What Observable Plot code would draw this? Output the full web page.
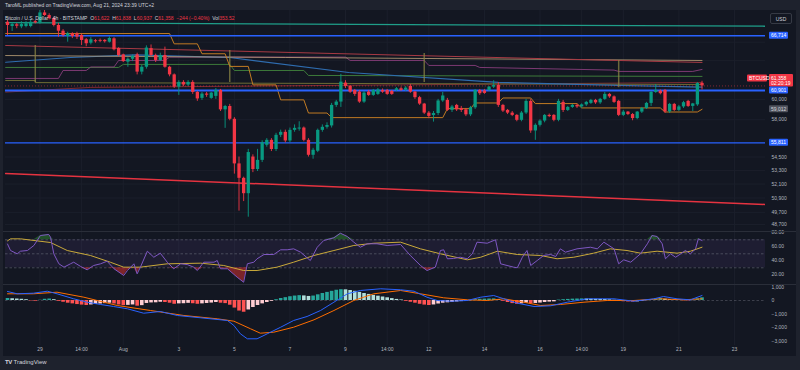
<!DOCTYPE html>
<html><head><meta charset="utf-8">
<script src="https://cdn.jsdelivr.net/npm/d3@7"></script>
<script src="https://cdn.jsdelivr.net/npm/@observablehq/plot@0.6"></script>
<style>
html,body{margin:0;padding:0;background:#1e222d;width:800px;height:370px;overflow:hidden;font-family:"Liberation Sans",Arial,sans-serif;}
#frame{position:absolute;left:3px;top:10px;width:793px;height:346px;background:#131722;}
.pane{position:absolute;left:0;}
.sep{position:absolute;left:3px;width:793px;height:1px;background:#2a2e39;}
#hdr{position:absolute;left:5px;top:2px;font-size:5px;color:#d1d4dc;white-space:nowrap;}
#legend{position:absolute;left:5px;top:14.6px;font-size:5px;color:#d1d4dc;white-space:nowrap;}
#legend .v{color:#f23645;}
#usd{position:absolute;left:770px;top:13px;width:22px;height:11px;border:0.6px solid #363a45;border-radius:2px;color:#d1d4dc;font-size:5px;line-height:11px;text-align:center;background:#131722;box-sizing:border-box;}
#footer{position:absolute;left:5px;top:358.5px;font-size:6px;color:#d1d4dc;white-space:nowrap;}
#footer b{font-weight:900;letter-spacing:-0.3px;margin-right:1.5px;}
</style></head>
<body>
<div id="frame"></div>
<div id="hdr"></div>
<div id="main" class="pane" style="top:10px"></div>
<div id="rsi" class="pane" style="top:231px"></div>
<div id="macd" class="pane" style="top:284px"></div>
<div class="sep" style="top:230.5px"></div>
<div class="sep" style="top:283.5px"></div>
<div id="legend"></div>
<div id="usd">USD</div>
<div id="footer"><b>TV</b>TradingView</div>
<script>
// ---------- DATA ----------
const headerText = "TaroML published on TradingView.com, Aug 21, 2024 23:39 UTC+2";
const symbolText = "Bitcoin / U.S. Dollar · 4h · BITSTAMP";
const lastVolume = 353.52;
const countdown = "02:20:19";
const START = "2024-07-27T22:00:00Z";   // first 4h bar (chart time UTC+2)
const BAR_HOURS = 4;
const X_DOMAIN = ["2024-07-27T20:16:00Z", "2024-08-24T04:50:00Z"];

const open = [68230,67750,67940,67710,67750,67750,68300,68150,69300,69000,
68650,67860,67220,66630,66930,66930,66740,66270,65890,66160,
66200,66200,66000,66370,65310,64620,63840,64150,64620,62790,
63300,65300,64550,64020,64550,63300,62500,61240,61720,61450,
61720,60700,60100,60530,60100,60300,60900,58960,59290,58040,
53880,52600,51270,54500,53380,54200,55580,56040,55190,56510,
56790,55980,56980,57100,57200,56040,54660,55030,56980,57270,
57400,59400,59730,61650,61310,60900,60730,59730,60730,60400,
60500,60900,60900,60800,60900,61070,60920,61310,60730,60170,
59530,58640,58400,58600,59840,59900,58910,59400,59100,58960,
58470,59160,60900,60850,60900,61240,61410,59400,58910,58640,
58420,57940,58650,59800,56920,57460,57870,58420,58420,57940,
59700,58900,59200,59400,59250,59450,59600,59900,59650,60000,
60500,60250,59800,58420,58740,58500,58110,58740,59100,59600,
60700,60830,60900,58760,59500,58910,59250,59800,59300,59450,
61622];
const high = [68420,68190,68100,68300,68300,68500,68450,69900,69700,69200,
68800,68100,67400,67100,67050,67100,66900,66400,66500,66300,
66350,66300,66600,66500,65400,64700,64300,64600,64800,63500,
65600,65700,64700,64800,65460,63400,62600,61900,61900,61900,
61900,60800,60700,60700,60700,61100,61000,59400,59500,58200,
54500,52700,55200,54700,55200,56000,56200,56200,56700,57000,
57000,57200,57500,57800,57300,56200,55300,57100,57500,57700,
59600,59900,62560,61900,61400,61000,60900,60800,60900,61000,
61100,61050,61000,60900,61200,61250,61300,61500,60800,60300,
59600,58800,58800,60000,60700,60100,59400,59500,59300,59100,
59300,61000,61000,61000,61300,61900,61700,59500,59000,58800,
58500,58800,60000,60000,57600,58000,58500,58550,58500,60000,
59900,59300,59500,59500,59550,59800,60000,60000,60100,60700,
60600,60350,59900,58900,58800,58600,58800,59200,59700,60800,
61500,60950,61000,59600,59600,59400,59800,59900,59600,61700,
61838];
const low = [66740,67190,67500,67500,67600,67600,68050,68000,68900,68500,
67700,66560,66560,66000,66400,66300,65640,65500,65700,65900,
65950,65900,65900,65050,64400,63800,63300,63900,62500,62500,
63100,64400,63800,63900,63200,62300,61100,60400,61300,61300,
60500,59800,59900,60200,60000,60000,58800,57170,57900,52970,
49800,50600,49300,53100,53200,54000,55400,55000,55000,56300,
55800,55800,56800,56900,55900,54500,54300,54900,56800,57100,
57200,59200,59200,61100,60600,60300,59600,59600,60300,60300,
60400,60600,60400,60400,60800,60800,60800,60600,60000,59400,
58500,58100,57770,58400,59700,58800,58700,58800,58700,58300,
58300,59000,60400,60500,60800,61100,59200,58700,58500,58300,
57800,57800,58500,56700,56040,57300,57700,58200,57800,57800,
58700,58800,59100,59100,59100,59300,59500,59500,59500,59900,
60100,59600,58300,58300,58400,57900,58000,58600,59000,59300,
60600,60450,58600,58600,58800,58800,59100,59200,58800,59300,
60937];
const close = [67860,67970,67780,67970,68050,68230,68150,69300,69000,68650,
67860,67220,66740,66930,66630,66560,66190,65830,66270,66050,
66100,66050,66410,65170,64550,63900,64150,64450,62790,63300,
65360,64550,64020,64550,63300,62500,61240,61720,61450,61720,
60700,60040,60530,60420,60630,60900,58960,59290,58040,53880,
52600,51270,54910,53380,54200,55820,56040,55190,56510,56790,
55980,56980,57170,57200,56040,54660,55120,56980,57270,57440,
59400,59730,61750,61310,60730,60500,59730,60630,60400,60900,
60950,60730,60500,60500,61070,60900,61140,60730,60170,59530,
58640,58320,58600,59840,60340,58910,59240,58960,58900,58470,
59160,60900,60570,60600,61240,61400,59400,58840,58640,58420,
57940,58650,59800,56920,57460,57870,58420,58300,57940,59800,
58900,59200,59400,59250,59450,59700,59900,59650,60000,60500,
60250,59700,58420,58740,58500,58110,58740,59100,59600,60700,
60900,60570,58760,59500,58910,59250,59670,59300,59550,61602,
61358];

// price levels / drawn lines  ([bar index, price])
const hLevels = [66714, 60901, 55811];
const stopLevel = 59012;
const tealLine = [[-0.4,68180],[163.7,67780]];
const trendLine = [[-0.4,53030],[163.7,50356]];
const redMA = [[-0.4,65640],[131.7,64020],[150,63810]];
const tanLine = [[-0.4,64550],[60,64340],[150,64020]];
const blueMA = [[-0.4,63830],[13.6,64340],[27.5,64630],[48,64340],[73.7,62750],[106,61720],[131.7,61410],[150,61240]];
const greenLine = [[-0.4,63280],[24,63280],[25,63600],[48,63600],[49,62960],[64,62960],[65,62440],[150,62340]];
const magentaLine = [[-0.4,62130],[11,62130],[12,62960],[17,62960],[18,63330],[23,63330],[24,64020],[34,64020],[35,64380],[73,64380],[74,64020],[90,64020],[91,63490],[101,63490],[102,63280],[131,63000],[132,62860],[148,62860],[150,63070]];
const oliveLine = [[-0.4,61920],[6,61920],[6,61700],[150,61510]];
const darkRedLine = [[-0.4,60730],[18,61210],[150,61720]];
const weekBoxes = [[6,65640,61700],[48,65090,61700],[90,64770,61700],[132,64020,61180]];
const stopLine = [[-0.4,66960],[35,66960],[36,65820],[41,65820],[42,64740],[47,64740],[48,63390],[52,63390],[53,61470],[58,61470],[59,59950],[64,59950],[65,58650],[69,58650],[70,58200],[94,58200],[95,59080],[100,59080],[101,59640],[106,59640],[107,60140],[113,60140],[114,59580],[123,59580],[124,59150],[141,59150],[142,58750],[149,58750],[150,59012]];

// RSI (14) and its MA
const rsi = [[0,64],[0.65,54.7],[2.1,50],[2.8,53.7],[4.3,54.7],[5.7,61.9],[7.1,76.1],[8.9,77.6],[9.3,73.7],[10,50],[11.1,35.7],[12.2,30.9],[13.6,35.7],[14.3,38],[15.8,31.9],[17.2,27.1],[18.6,33.3],[20.1,35.7],[21.5,39.4],[23,28.6],[25.1,19],[25.9,26.1],[27.3,35.7],[28,21.4],[28.7,30.9],[30.2,53.7],[31.6,45.1],[33,50.9],[34.5,38],[35.9,28.6],[37.4,35.7],[38.8,34.7],[40.2,30.9],[41,26.1],[42.4,38],[44.6,38],[45.3,40.4],[46,28.6],[47.5,28.6],[49.6,16.6],[51,9.4],[51.8,35.7],[53.2,38],[53.9,42.9],[55.4,49],[57.5,49],[59,55.7],[60.4,55.7],[61.8,57.1],[63.3,52.3],[65.4,40.4],[66.9,59.4],[68.3,69],[70.5,72.9],[71.9,79.4],[73.4,74.7],[74.8,66.6],[76.2,59.4],[77.7,64.3],[79.8,64.3],[82,61.9],[84.9,63.3],[87,47.6],[89.2,33.3],[90.6,26.1],[92.4,30.9],[93.5,54.7],[94.2,55.7],[95,42.9],[96.3,43.3],[97.8,45.1],[99.3,42.9],[100.4,50],[101.4,66.6],[103.6,65.1],[105.4,70],[106.5,35.7],[109.3,30.9],[110.1,30],[111.2,45.1],[112.2,54.7],[113,33.3],[114.4,40.4],[115.8,47.6],[117.3,49],[118.4,46.1],[119.4,57.1],[120.5,52.3],[123,57.1],[125.9,59.4],[127.4,57.1],[128.8,66.6],[131,57.1],[132,35.7],[133.1,41.4],[134.6,38],[136.7,50],[138.2,64.3],[139.2,76.1],[140.3,74.7],[141.4,64.3],[142.1,42.9],[143.2,50],[144.3,45.1],[145.4,50],[146.4,54.7],[147.5,50],[148.6,57.1],[149.2,71.4],[150,69]];
const rsiMA = [[0,68.5],[0.65,71.4],[2.8,71.4],[9.3,66.1],[12.9,54.7],[17.9,47.6],[22.2,38],[25.1,30.9],[28.7,30.9],[34.5,35.7],[41.7,36.6],[46.7,33.3],[51,26.1],[53.9,26.1],[58.2,30.9],[61.8,38],[66.2,47.6],[70.5,54.7],[74.8,61.9],[79.1,65.1],[84.9,66.6],[89.2,57.1],[93.5,50],[99.3,41.4],[102.2,45.1],[105.8,53.7],[110.1,49],[115.1,47.6],[118.7,42.9],[122.3,45.1],[126.6,50.9],[130.2,57.1],[133.8,54.7],[136.7,50.9],[140.3,53.7],[144.6,50.9],[147.5,53.7],[150,59.4]];
const rsiBands = [70, 50, 30];

// MACD (12,26,9)
const macdLine = [[0,667],[2.1,496],[5.6,541],[8.6,689],[10.7,496],[14.3,126],[17.2,-126],[20.1,-296],[22.9,-444],[25.9,-615],[29.4,-941],[33,-815],[36.7,-1111],[41.7,-1281],[47.5,-1481],[48.9,-1852],[50.3,-2467],[51.8,-2837],[53.9,-2837],[56.1,-2467],[59,-1978],[61.8,-1481],[64.7,-1185],[67.6,-741],[70.5,-126],[73.4,496],[76.2,741],[80.6,867],[84.9,793],[87.8,689],[90.6,244],[92.8,0],[95.7,-52],[99.3,0],[102.2,244],[105,370],[107.2,126],[110.1,-200],[113.7,-444],[117.3,-393],[120.9,-126],[125.2,126],[131,126],[135.3,-52],[139.6,126],[141.7,296],[144.6,126],[147.5,52],[150,370]];
const signalLine = [[0,496],[5.6,496],[10.7,615],[16.5,244],[23.7,-370],[30.9,-741],[38.1,-1111],[45.3,-1356],[48.9,-1533],[52.5,-2096],[54.6,-2422],[57.5,-2348],[61.8,-1978],[66.2,-1430],[70.5,-741],[74.8,0],[79.1,496],[84.9,741],[89.2,496],[94.2,200],[99.3,52],[103.6,0],[107.2,126],[111.5,-126],[115.1,-370],[119.4,-296],[124.5,-126],[129.5,0],[135.3,0],[141,126],[146,52],[150,126]];
const histogram = [150,130,110,90,60,-30,-50,20,90,110,
60,-60,-130,-200,-250,-300,-340,-370,-330,-290,
-260,-230,-200,-260,-330,-380,-360,-330,-420,-380,
-220,-180,-170,-130,-150,-200,-280,-250,-240,-210,
-240,-280,-250,-220,-190,-150,-200,-230,-350,-560,
-780,-870,-700,-520,-370,-250,-150,-60,60,150,
210,280,330,360,340,300,330,420,520,600,
680,760,800,790,740,680,600,520,450,380,
320,260,200,140,80,40,-60,-130,-200,-280,
-340,-370,-330,-260,-200,-170,-140,-110,-80,-50,
-20,60,90,100,110,120,60,-60,-150,-230,
-280,-250,-200,-240,-220,-190,-150,-120,-100,30,
60,80,100,110,120,110,100,90,80,70,
50,20,-60,-90,-110,-120,-100,-60,-10,60,
120,150,100,60,40,20,-20,-30,-10,120,
200];

// axes
const priceTicks = [66000, 64000, 60000, 58000, 54500, 53300, 52100, 50900, 49700, 48700];
const rsiTicks = [80, 60, 40, 20];
const macdTicks = [1000, 0, -1000, -2000, -3000];
const timeTicks = [["2024-07-29T02:00:00Z","29"],["2024-07-30T14:00:00Z","14:00"],["2024-08-01T02:00:00Z","Aug"],["2024-08-03T02:00:00Z","3"],["2024-08-05T02:00:00Z","5"],["2024-08-07T02:00:00Z","7"],["2024-08-09T02:00:00Z","9"],["2024-08-10T14:00:00Z","14:00"],["2024-08-12T02:00:00Z","12"],["2024-08-14T02:00:00Z","14"],["2024-08-16T02:00:00Z","16"],["2024-08-17T14:00:00Z","14:00"],["2024-08-19T02:00:00Z","19"],["2024-08-21T02:00:00Z","21"],["2024-08-23T02:00:00Z","23"]];

// ---------- BUILD ----------
const UP = "#089981", DN = "#f23645", GRID = "#1b1f2b";
const t0 = Date.parse(START), BAR = BAR_HOURS * 3600e3;
const at = i => new Date(t0 + i * BAR);
const kn = arr => arr.map(([i, v]) => ({date: at(i), v}));
const bars = open.map((o, i) => ({date: at(i), o, h: high[i], l: low[i], c: close[i], up: close[i] >= o}));
const hist = histogram.map((v, i) => {
  const p = i ? histogram[i - 1] : v;
  const col = v >= 0 ? (v >= p ? "#26a69a" : "#b2dfdb") : (v <= p ? "#ff5252" : "#ffcdd2");
  return {date: at(i), v, col};
});
const xDom = X_DOMAIN.map(d => new Date(d));
const tickDates = timeTicks.map(d => new Date(d[0]));
const tickLabel = new Map(timeTicks.map(d => [+new Date(d[0]), d[1]]));
const fmt = d3.format(",");
const style = {background: "transparent", color: "#b2b5be", fontFamily: "Liberation Sans, Arial, sans-serif", fontSize: "5px", overflow: "visible"};

const last = bars.length - 1;
document.getElementById("hdr").textContent = headerText;
const chg = close[last] - close[last - 1];
const pct = chg / close[last - 1] * 100;
document.getElementById("legend").innerHTML =
  `${symbolText}&nbsp;&nbsp;O<span class="v">${fmt(open[last])}</span>&nbsp;&nbsp;H<span class="v">${fmt(high[last])}</span>&nbsp;&nbsp;L<span class="v">${fmt(low[last])}</span>&nbsp;&nbsp;C<span class="v">${fmt(close[last])}</span>&nbsp;&nbsp;<span class="v">${fmt(chg)} (${d3.format(".2f")(pct)}%)</span>&nbsp;&nbsp;Vol<span class="v">${d3.format(".2f")(lastVolume)}</span>`;

function badgeMark(list) {
  return (index, scales, values, dims) => {
    const g = d3.create("svg:g").attr("font-size", 5).attr("text-anchor", "start");
    const x0 = dims.width - dims.marginRight;
    for (const b of list) {
      const py = scales.y(b.value);
      const top = py + b.top;
      g.append("rect").attr("x", x0 + b.x).attr("y", top).attr("width", b.w).attr("height", b.h)
        .attr("rx", 1).attr("fill", b.fill);
      b.lines.forEach((t, k) => {
        g.append("text").attr("x", x0 + b.x + 2).attr("y", top + 3.6 + k * 5.3)
          .attr("text-anchor", "start")
          .attr("dominant-baseline", "central").attr("fill", b.color || "#fff").text(t);
      });
    }
    return g.node();
  };
}

const lineOpt = (stroke, w = 1, op = 1) => ({x: "date", y: "v", stroke, strokeWidth: w, strokeOpacity: op, clip: true});

const main = Plot.plot({
  width: 800, height: 221, marginLeft: 5, marginRight: 35, marginTop: 0, marginBottom: 0,
  x: {type: "utc", domain: xDom, axis: null},
  y: {type: "log", domain: [48138, 69581], axis: null},
  style,
  marks: [
    Plot.ruleX(tickDates, {x: d => d, stroke: GRID}),
    Plot.ruleY(priceTicks, {y: d => d, stroke: GRID}),
    Plot.line(kn(darkRedLine), lineOpt("#7d2a33", 1)),
    Plot.line(kn(oliveLine), lineOpt("#6e6c34", 1)),
    Plot.line(kn(greenLine), lineOpt("#3d7a3a", 1)),
    Plot.line(kn(magentaLine), lineOpt("#8e3f80", 1, 0.85)),
    Plot.line(kn(blueMA), lineOpt("#2f6db0", 1.2)),
    Plot.line(kn(tanLine), lineOpt("#b59b74", 1, 0.85)),
    Plot.line(kn(redMA), lineOpt("#a83a44", 1)),
    Plot.ruleX(weekBoxes, {x: d => at(d[0]), y1: d => d[1], y2: d => d[2], stroke: "#8a8444", strokeWidth: 1.5, strokeOpacity: 0.75}),
    Plot.line(kn(stopLine), lineOpt("#c27b23", 1)),
    Plot.line(kn(tealLine), lineOpt("#1f9e89", 1.3)),
    Plot.ruleY(hLevels, {y: d => d, stroke: "#2962ff", strokeWidth: d => d === 60901 ? 2 : 1.3}),
    Plot.line(kn(trendLine), lineOpt("#e53340", 1.5)),
    Plot.ruleY([close[last]], {y: d => d, stroke: DN, strokeDasharray: "1,2", strokeOpacity: 0.5}),
    Plot.ruleX(bars.filter(d => d.up), {x: "date", y1: "l", y2: "h", stroke: UP, strokeWidth: 0.9, clip: true}),
    Plot.ruleX(bars.filter(d => !d.up), {x: "date", y1: "l", y2: "h", stroke: DN, strokeWidth: 0.9, clip: true}),
    Plot.ruleX(bars.filter(d => d.up), {x: "date", y1: "o", y2: "c", stroke: UP, strokeWidth: 3.3, clip: true}),
    Plot.ruleX(bars.filter(d => !d.up), {x: "date", y1: "o", y2: "c", stroke: DN, strokeWidth: 3.3, clip: true}),
    Plot.axisY(priceTicks, {anchor: "right", tickSize: 0, tickPadding: 6, tickFormat: fmt, fontSize: 5, label: null}),
    badgeMark([
      {value: hLevels[0], lines: [fmt(hLevels[0])], fill: "#2962ff", x: 4, w: 19, top: -3.5, h: 7},
      {value: close[last], lines: [fmt(close[last]), countdown], fill: DN, x: 4, w: 24, top: -11.5, h: 12.5},
      {value: close[last], lines: ["BTCUSD"], fill: DN, x: -18, w: 20, top: -11, h: 7},
      {value: hLevels[1], lines: [fmt(hLevels[1])], fill: "#2962ff", x: 4, w: 19, top: -3.5, h: 7},
      {value: stopLevel, lines: [fmt(stopLevel)], fill: "#50535e", color: "#d1d4dc", x: 4, w: 19, top: -3.5, h: 7},
      {value: hLevels[2], lines: [fmt(hLevels[2])], fill: "#2962ff", x: 4, w: 19, top: -3.5, h: 7}
    ])
  ]
});
document.getElementById("main").append(main);

const rsiPlot = Plot.plot({
  width: 800, height: 53, marginLeft: 5, marginRight: 35, marginTop: 0, marginBottom: 0,
  x: {type: "utc", domain: xDom, axis: null},
  y: {domain: [6.14, 81.86], axis: null},
  style,
  marks: [
    Plot.ruleX(tickDates, {x: d => d, stroke: GRID}),
    Plot.areaY(xDom, {x: d => d, y1: 30, y2: 70, fill: "#7e57c2", fillOpacity: 0.1}),
    Plot.ruleY(rsiBands, {y: d => d, stroke: "#787b86", strokeDasharray: "2.5,2", strokeOpacity: 0.7, strokeWidth: 0.7}),
    Plot.areaY(kn(rsi), {x: "date", y1: 70, y2: d => Math.max(d.v, 70), fill: "#2e7d32", fillOpacity: 0.55}),
    Plot.areaY(kn(rsi), {x: "date", y1: 30, y2: d => Math.min(d.v, 30), fill: "#d32f2f", fillOpacity: 0.55}),
    Plot.line(kn(rsiMA), {x: "date", y: "v", stroke: "#c9a93a", strokeWidth: 1}),
    Plot.line(kn(rsi), {x: "date", y: "v", stroke: "#7e57c2", strokeWidth: 1}),
    Plot.axisY(rsiTicks, {anchor: "right", tickSize: 0, tickPadding: 6, tickFormat: d3.format(".2f"), fontSize: 5, label: null})
  ]
});
document.getElementById("rsi").append(rsiPlot);

const macdPlot = Plot.plot({
  width: 800, height: 72, marginLeft: 5, marginRight: 35, marginTop: 0, marginBottom: 11,
  x: {type: "utc", domain: xDom, axis: null},
  y: {domain: [-3333, 1185], axis: null},
  style,
  marks: [
    Plot.ruleX(tickDates, {x: d => d, stroke: GRID}),
    Plot.ruleY([0], {y: d => d, stroke: "#787b86", strokeDasharray: "2.5,2", strokeOpacity: 0.6, strokeWidth: 0.7}),
    ...["#26a69a", "#b2dfdb", "#ff5252", "#ffcdd2"].map(c =>
      Plot.ruleX(hist.filter(d => d.col === c), {x: "date", y1: 0, y2: "v", stroke: c, strokeWidth: 3.6})),
    Plot.line(kn(signalLine), {x: "date", y: "v", stroke: "#ff6d00", strokeWidth: 1}),
    Plot.line(kn(macdLine), {x: "date", y: "v", stroke: "#2962ff", strokeWidth: 1}),
    Plot.axisY(macdTicks, {anchor: "right", tickSize: 0, tickPadding: 6, tickFormat: fmt, fontSize: 5, label: null}),
    Plot.axisX(tickDates, {anchor: "bottom", tickSize: 0, tickPadding: 2, tickFormat: d => tickLabel.get(+d), fontSize: 5, label: null})
  ]
});
document.getElementById("macd").append(macdPlot);
</script>
</body></html>
